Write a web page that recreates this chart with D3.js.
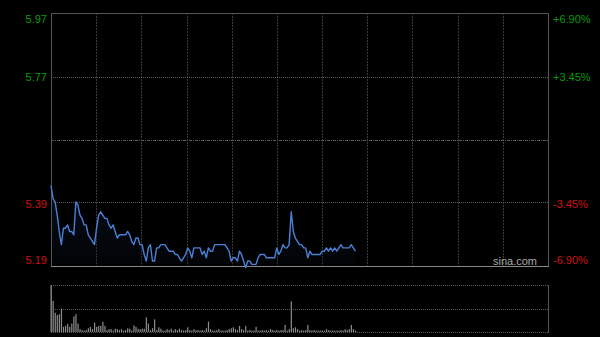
<!DOCTYPE html>
<html><head><meta charset="utf-8">
<script src="https://cdn.jsdelivr.net/npm/d3@7"></script>
<style>html,body{margin:0;padding:0;background:#000;}svg{display:block;}</style>
</head><body>
<svg id="c" width="600" height="337"></svg>
<script>
const preClose = 5.58;
const leftTicks = ["5.97", "5.77", "5.39", "5.19"];
const rightTicks = ["+6.90%", "+3.45%", "-3.45%", "-6.90%"];
const tickValues = [5.97, 5.77, 5.39, 5.19];
const prices = [5.44,5.40,5.39,5.35,5.30,5.26,5.31,5.31,5.32,5.30,5.30,5.29,5.39,5.38,5.35,5.34,5.32,5.32,5.29,5.28,
5.27,5.26,5.31,5.35,5.36,5.35,5.34,5.34,5.32,5.31,5.32,5.30,5.28,5.29,5.29,5.29,5.29,5.30,5.29,5.27,
5.26,5.28,5.28,5.26,5.26,5.23,5.21,5.25,5.26,5.21,5.21,5.25,5.25,5.26,5.26,5.26,5.25,5.24,5.24,5.24,
5.23,5.23,5.22,5.21,5.22,5.23,5.25,5.24,5.22,5.25,5.25,5.25,5.25,5.23,5.24,5.22,5.25,5.24,5.24,5.26,
5.26,5.26,5.26,5.26,5.26,5.25,5.24,5.21,5.22,5.22,5.21,5.24,5.23,5.21,5.19,5.21,5.21,5.20,5.20,5.20,
5.22,5.23,5.23,5.23,5.22,5.22,5.22,5.22,5.22,5.25,5.23,5.24,5.26,5.25,5.25,5.26,5.36,5.30,5.28,5.27,
5.26,5.26,5.25,5.25,5.22,5.24,5.23,5.23,5.23,5.23,5.23,5.24,5.24,5.25,5.24,5.25,5.24,5.25,5.24,5.25,
5.26,5.25,5.25,5.25,5.25,5.26,5.25,5.24];
const volumes = [100,66,41,36,38,50,11,13,17,11,18,33,38,18,6,4,3,4,8,11,
6,20,11,13,13,22,13,4,6,6,3,7,6,4,6,3,4,8,7,3,
14,11,7,6,7,7,31,18,4,8,27,4,10,7,3,3,6,4,7,3,
6,4,7,4,3,4,10,4,3,6,4,4,3,4,3,8,22,6,3,3,
4,6,3,3,3,4,6,8,10,6,4,13,6,4,13,3,4,3,3,11,
3,3,4,3,4,3,6,4,3,4,3,4,4,15,3,6,65,8,10,6,
3,4,3,4,15,4,3,4,3,3,3,3,3,6,4,3,3,3,3,3,
4,3,6,4,6,15,6,3];
const totalMinutes = 240;
const gridDivisions = 11;

const svg = d3.select("#c");
const L = 51, R = 548, T = 13, B = 266;
const vT = 285, vB = 332;
const x = d3.scaleLinear().domain([0, totalMinutes]).range([L, R]);
const y = d3.scaleLinear().domain([preClose * (1 - 0.069), preClose * (1 + 0.069)]).range([B, T]);
const yv = d3.scaleLinear().domain([0, d3.max(volumes)]).range([vB, vT]);

// vertical grid
const vg = d3.range(1, gridDivisions).map(k => k * totalMinutes / gridDivisions);
svg.append("g").selectAll("line").data(vg).join("line")
  .attr("x1", d => Math.round(x(d)) + 0.5).attr("x2", d => Math.round(x(d)) + 0.5)
  .attr("y1", T).attr("y2", B)
  .attr("stroke", "#3a3a3a").attr("stroke-width", 1).attr("stroke-dasharray", "2,1");

// horizontal grid
svg.append("g").selectAll("line").data([tickValues[1], tickValues[2]]).join("line")
  .attr("x1", L).attr("x2", R)
  .attr("y1", d => Math.round(y(d)) + 0.5).attr("y2", d => Math.round(y(d)) + 0.5)
  .attr("stroke", "#5a5a5a").attr("stroke-dasharray", "1,1");
svg.append("line").attr("x1", L).attr("x2", R)
  .attr("y1", Math.round(y(preClose)) + 0.5).attr("y2", Math.round(y(preClose)) + 0.5)
  .attr("stroke", "#5a5a5a").attr("stroke-dasharray", "3,1,1,1");

// area fill
const grad = svg.append("defs").append("linearGradient").attr("id", "g1")
  .attr("x1", 0).attr("y1", 0).attr("x2", 0).attr("y2", 1);
grad.append("stop").attr("offset", "0%").attr("stop-color", "#162440").attr("stop-opacity", 0.45);
grad.append("stop").attr("offset", "100%").attr("stop-color", "#0a1020").attr("stop-opacity", 0.2);
svg.append("path").datum(prices)
  .attr("d", d3.area().x((d, i) => x(i)).y0(B).y1(d => y(d)))
  .attr("fill", "url(#g1)");

// main box
svg.append("rect").attr("x", L + 0.5).attr("y", T + 0.5).attr("width", R - L).attr("height", B - T)
  .attr("fill", "none").attr("stroke", "#555");
svg.append("line").attr("x1", L).attr("x2", R + 1).attr("y1", B + 0.5).attr("y2", B + 0.5).attr("stroke", "#888");

// price line
svg.append("path").datum(prices)
  .attr("d", d3.line().x((d, i) => x(i)).y(d => y(d)))
  .attr("fill", "none").attr("stroke", "#4a80d8").attr("stroke-width", 1.4).attr("stroke-linejoin", "round");

// axis labels
const colors = ["#0b9a0b", "#0b9a0b", "#d01010", "#d01010"];
const labelY = [19, 77, 204, 260];
svg.append("g").selectAll("text").data(leftTicks).join("text")
  .attr("x", 47).attr("y", (d, i) => labelY[i]).attr("dy", "0.35em")
  .attr("text-anchor", "end").attr("fill", (d, i) => colors[i])
  .style("font", "11px Arial, 'Liberation Sans', sans-serif").text(d => d);
svg.append("g").selectAll("text").data(rightTicks).join("text")
  .attr("x", 553).attr("y", (d, i) => labelY[i]).attr("dy", "0.35em")
  .attr("text-anchor", "start").attr("fill", (d, i) => colors[i])
  .style("font", "11px Arial, 'Liberation Sans', sans-serif").text(d => d);

svg.append("text").attr("x", 537).attr("y", 261).attr("dy", "0.35em").attr("text-anchor", "end")
  .attr("fill", "#aaa").style("font", "11px Arial, 'Liberation Sans', sans-serif").text("sina.com");

// volume panel
svg.append("g").selectAll("line").data([vT, (vT + vB) / 2, vB]).join("line")
  .attr("x1", L).attr("x2", R).attr("y1", d => Math.round(d) + 0.5).attr("y2", d => Math.round(d) + 0.5)
  .attr("stroke", "#555").attr("stroke-dasharray", "1,1");
svg.append("line").attr("x1", R + 0.5).attr("x2", R + 0.5).attr("y1", vT).attr("y2", vB + 1).attr("stroke", "#555");
svg.append("line").attr("x1", L + 0.5).attr("x2", L + 0.5).attr("y1", vT).attr("y2", vB + 1).attr("stroke", "#555");
svg.append("g").selectAll("rect").data(volumes).join("rect")
  .attr("x", (d, i) => x(i) - 0.5).attr("width", 1.2)
  .attr("y", d => yv(d)).attr("height", d => vB - yv(d))
  .attr("fill", "#8c8c8c");
</script>
</body></html>
